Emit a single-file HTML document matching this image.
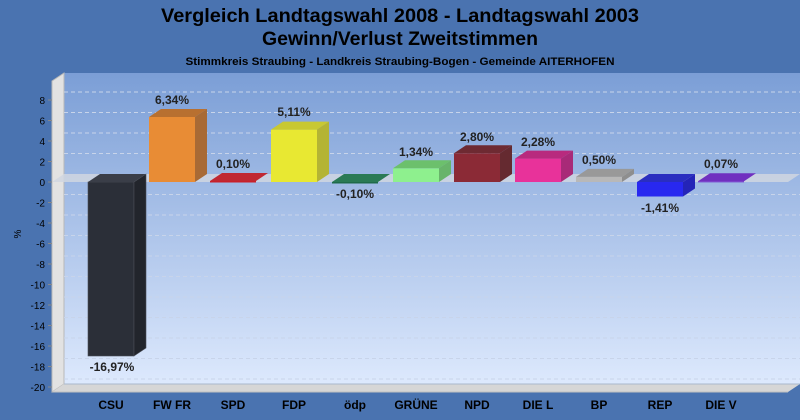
<!DOCTYPE html>
<html><head><meta charset="utf-8"><style>
html,body{margin:0;padding:0;background:#4a73b0;}
svg{display:block;font-family:"Liberation Sans",Arial,sans-serif;}
</style></head><body>
<svg width="800" height="420" viewBox="0 0 800 420" xmlns="http://www.w3.org/2000/svg">
<defs>
<linearGradient id="bg" x1="0" y1="0" x2="0" y2="1">
<stop offset="0" stop-color="#7b9ed6"/><stop offset="1" stop-color="#dde9fd"/>
</linearGradient>
</defs>
<rect width="800" height="420" fill="#4a73b0"/>
<text x="400" y="22" text-anchor="middle" font-family="'Liberation Sans Narrow','Liberation Sans',sans-serif" font-weight="bold" font-size="19" fill="#000" textLength="478" lengthAdjust="spacingAndGlyphs">Vergleich Landtagswahl 2008 - Landtagswahl 2003</text>
<text x="400" y="45" text-anchor="middle" font-family="'Liberation Sans Narrow','Liberation Sans',sans-serif" font-weight="bold" font-size="19" fill="#000" textLength="276" lengthAdjust="spacingAndGlyphs">Gewinn/Verlust Zweitstimmen</text>
<text x="400" y="65" text-anchor="middle" font-family="'Liberation Sans Narrow','Liberation Sans',sans-serif" font-weight="bold" font-size="11" fill="#000" textLength="429" lengthAdjust="spacingAndGlyphs">Stimmkreis Straubing - Landkreis Straubing-Bogen - Gemeinde AITERHOFEN</text>
<rect x="64" y="73" width="736" height="311" fill="url(#bg)"/>
<polygon points="52,81 64,73 64,384 52,392" fill="#e2e2e2" stroke="#b8b8b8" stroke-width="1"/>
<polygon points="52,392 64,384 800,384 788,392" fill="#d6d6d6"/>
<line x1="52" y1="392" x2="788" y2="392" stroke="#c0c0c0"/>
<line x1="64" y1="384" x2="800" y2="384" stroke="#a9b8cc"/>
<g stroke="#c8d4ea" stroke-dasharray="4,3" stroke-width="1">
<line x1="64" y1="92" x2="800" y2="92"/><line x1="64" y1="112.5" x2="800" y2="112.5"/><line x1="64" y1="133" x2="800" y2="133"/><line x1="64" y1="153.5" x2="800" y2="153.5"/>
<line x1="64" y1="194.5" x2="800" y2="194.5"/><line x1="64" y1="215" x2="800" y2="215"/><line x1="64" y1="235.5" x2="800" y2="235.5"/><line x1="64" y1="256" x2="800" y2="256"/><line x1="64" y1="276.5" x2="800" y2="276.5"/><line x1="64" y1="297" x2="800" y2="297"/><line x1="64" y1="317.5" x2="800" y2="317.5"/><line x1="64" y1="338" x2="800" y2="338"/><line x1="64" y1="358.5" x2="800" y2="358.5"/><line x1="64" y1="379" x2="800" y2="379"/>
</g>
<polygon points="52,182 64,174 800,174 788,182" fill="#d0d6e0" opacity="0.85"/>
<g font-size="10" fill="#000" text-anchor="end">
<text x="45" y="104">8</text><text x="45" y="124.5">6</text><text x="45" y="145">4</text><text x="45" y="165.5">2</text><text x="45" y="186">0</text>
<text x="45" y="206.5">-2</text><text x="45" y="227">-4</text><text x="45" y="247.5">-6</text><text x="45" y="268">-8</text><text x="45" y="288.5">-10</text><text x="45" y="309">-12</text><text x="45" y="329.5">-14</text><text x="45" y="350">-16</text><text x="45" y="370.5">-18</text><text x="45" y="391">-20</text>
</g>
<text x="21" y="234" font-size="10" transform="rotate(-90 21 234)" text-anchor="middle">%</text>
<g stroke="#888" stroke-width="1">
<line x1="48" y1="100" x2="52" y2="100"/><line x1="48" y1="120.5" x2="52" y2="120.5"/><line x1="48" y1="141" x2="52" y2="141"/><line x1="48" y1="161.5" x2="52" y2="161.5"/><line x1="48" y1="182" x2="52" y2="182"/><line x1="48" y1="202.5" x2="52" y2="202.5"/><line x1="48" y1="223" x2="52" y2="223"/><line x1="48" y1="243.5" x2="52" y2="243.5"/><line x1="48" y1="264" x2="52" y2="264"/><line x1="48" y1="284.5" x2="52" y2="284.5"/><line x1="48" y1="305" x2="52" y2="305"/><line x1="48" y1="325.5" x2="52" y2="325.5"/><line x1="48" y1="346" x2="52" y2="346"/><line x1="48" y1="366.5" x2="52" y2="366.5"/><line x1="48" y1="387" x2="52" y2="387"/>
</g>
<g stroke-width="0.6">
<rect x="88" y="182" width="46" height="174" fill="#2b2f38" stroke="#4a4e58"/>
<polygon points="88,182 100,174 146,174 134,182" fill="#3a3e48"/>
<polygon points="134,182 146,174 146,348 134,356" fill="#22252c" stroke="#4a4e58"/>
<rect x="149" y="117" width="46" height="65" fill="#e88c35"/>
<polygon points="149,117 161,109 207,109 195,117" fill="#b87030"/>
<polygon points="195,117 207,109 207,174 195,182" fill="#a86a35"/>
<rect x="210" y="181" width="46" height="1.5" fill="#c8202a"/>
<polygon points="210,181 222,173 268,173 256,181" fill="#c02832"/>
<rect x="271" y="129.6" width="46" height="52.4" fill="#e8e832"/>
<polygon points="271,129.6 283,121.6 329,121.6 317,129.6" fill="#c8c832"/>
<polygon points="317,129.6 329,121.6 329,174 317,182" fill="#b4b434"/>
<rect x="332" y="182" width="46" height="1.5" fill="#1f6b4a"/>
<polygon points="332,182 344,174 390,174 378,182" fill="#2a7a55"/>
<rect x="393" y="168.3" width="46" height="13.7" fill="#8ef08e"/>
<polygon points="393,168.3 405,160.3 451,160.3 439,168.3" fill="#6cc06c"/>
<polygon points="439,168.3 451,160.3 451,174 439,182" fill="#68b46a"/>
<rect x="454" y="153.3" width="46" height="28.7" fill="#8b2a36"/>
<polygon points="454,153.3 466,145.3 512,145.3 500,153.3" fill="#6e2a32"/>
<polygon points="500,153.3 512,145.3 512,174 500,182" fill="#652a30"/>
<rect x="515" y="158.6" width="46" height="23.4" fill="#e8329a"/>
<polygon points="515,158.6 527,150.6 573,150.6 561,158.6" fill="#b82a7e"/>
<polygon points="561,158.6 573,150.6 573,174 561,182" fill="#a82a78"/>
<rect x="576" y="176.9" width="46" height="5.1" fill="#b8b8b8"/>
<polygon points="576,176.9 588,168.9 634,168.9 622,176.9" fill="#999"/>
<polygon points="622,176.9 634,168.9 634,174 622,182" fill="#8e8e8e"/>
<rect x="637" y="182" width="46" height="14.5" fill="#2828f0"/>
<polygon points="637,182 649,174 695,174 683,182" fill="#2a2ec0"/>
<polygon points="683,182 695,174 695,188.5 683,196.5" fill="#2424b8"/>
<rect x="698" y="181.3" width="46" height="1" fill="#6a2ac8"/>
<polygon points="698,181.3 710,173.3 756,173.3 744,181.3" fill="#7030c0"/>
</g>
<g font-size="12" font-weight="bold" fill="#222" text-anchor="middle">
<text x="112" y="371">-16,97%</text>
<text x="172" y="104">6,34%</text>
<text x="233" y="168">0,10%</text>
<text x="294" y="116">5,11%</text>
<text x="355" y="198">-0,10%</text>
<text x="416" y="156">1,34%</text>
<text x="477" y="141">2,80%</text>
<text x="538" y="146">2,28%</text>
<text x="599" y="164">0,50%</text>
<text x="660" y="212">-1,41%</text>
<text x="721" y="168">0,07%</text>
</g>
<g font-family="'Liberation Sans Narrow','Liberation Sans',sans-serif" font-size="12" font-weight="bold" fill="#000" text-anchor="middle">
<text x="111" y="409">CSU</text><text x="172" y="409">FW FR</text><text x="233" y="409">SPD</text><text x="294" y="409">FDP</text><text x="355" y="409">ödp</text><text x="416" y="409">GRÜNE</text><text x="477" y="409">NPD</text><text x="538" y="409">DIE L</text><text x="599" y="409">BP</text><text x="660" y="409">REP</text><text x="721" y="409">DIE V</text>
</g>
</svg>
</body></html>
